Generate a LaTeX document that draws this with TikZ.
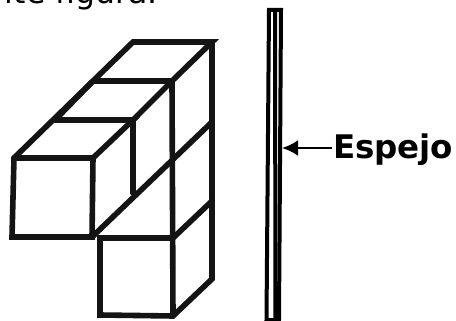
\documentclass[tikz,border=0pt]{standalone}
\usepackage{fontspec}
\setmainfont{DejaVu Sans}
\usetikzlibrary{arrows.meta}
\tikzset{
  cube/.style={line width=5.6pt,line join=miter,line cap=round,draw=black!92},
  mirror/.style={line width=4pt,draw=black},
  lbl/.style={inner sep=0pt,outer sep=0pt,anchor=base west},
}
\begin{document}
\begin{tikzpicture}[x=1pt,y=-1pt]
\useasboundingbox (0,0) rectangle (456,321);
\clip (0,0) rectangle (456,321);
\node[lbl,font=\fontsize{31.5pt}{36pt}\selectfont] (top) at (5,4) {ite figura.};
% top surface
\draw[cube] (14,158) -- (133,42) -- (212,42) -- (172,81) -- (93,81);
\draw[cube] (14,158) -- (93,158) -- (133,120) -- (55,120);
\draw[cube] (133,120) -- (172,81) (93,81) -- (55,120);
% front cube left
\draw[cube] (14,158) -- (12,237) -- (92,237) -- (93,158);
% verticals
\draw[cube] (133,120) -- (133,193);
\draw[cube] (172,81) -- (173,316);
\draw[cube] (212,42) -- (212,279) -- (173,316) -- (100,315) -- (100,238) -- (173,238);
% diagonals
\draw[cube] (92,237) -- (212,122);
\draw[cube] (173,238) -- (212,201);
% mirror
\draw[mirror] (269,10) -- (281,10) -- (279,320) -- (266.5,320) -- cycle;
\draw[mirror] (275,10) -- (275.5,320);
% arrow
\node[lbl,font=\bfseries\fontsize{32.5pt}{36pt}\selectfont] (esp) at (333,159) {Espejo};
\coordinate (tip) at (282,148);
\draw[line width=2.8pt,-{Latex[length=16pt,width=16pt]}] (332,148) -- (tip);
\end{tikzpicture}
\end{document}
